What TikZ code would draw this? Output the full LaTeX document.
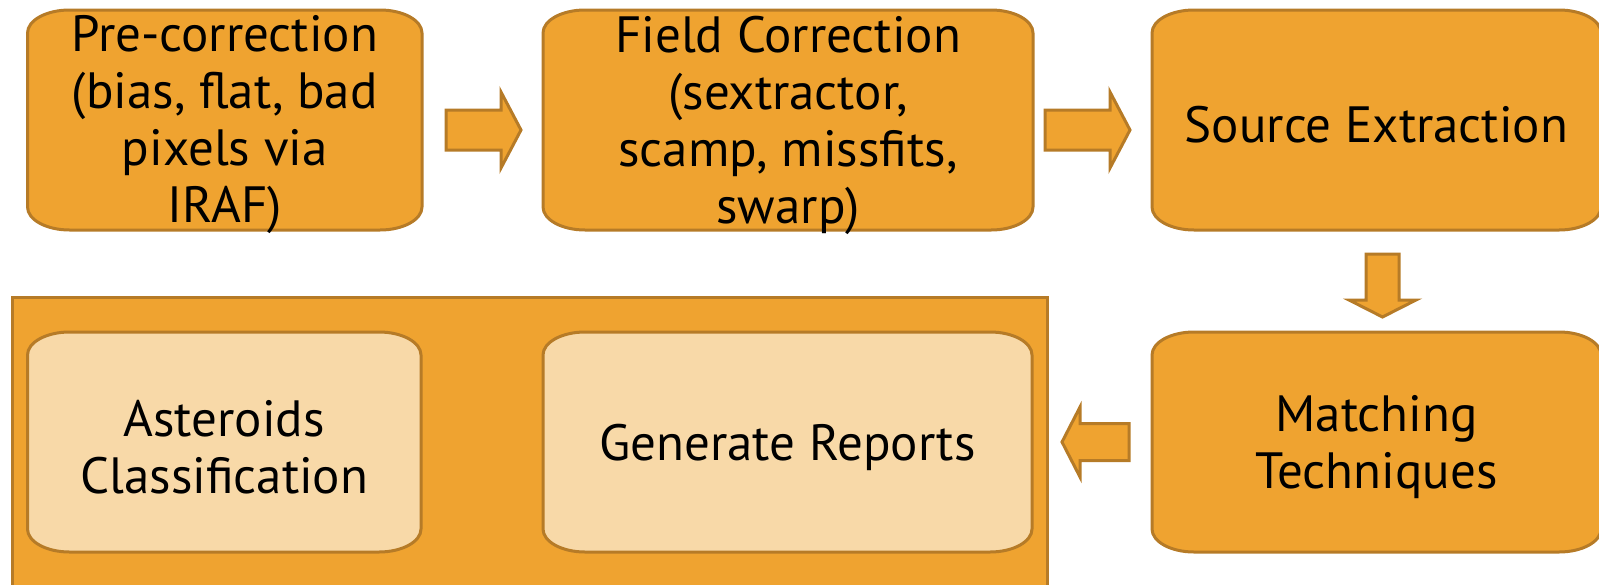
\documentclass[tikz,border=0pt]{standalone}
\usepackage{fontspec}
\setmainfont{PT Sans}
\usetikzlibrary{calc,backgrounds}

\definecolor{stepfill}{HTML}{EFA330}
\definecolor{stepline}{HTML}{B67B27}
\definecolor{lightfill}{HTML}{F8D9A8}

\tikzset{
  stepbox/.style={minimum width=#1, minimum height=110pt, inner sep=0pt,
    outer sep=0pt, align=center, text=black,
    font=\fontsize{25.5}{28.5}\selectfont},
  outline/.style={draw=stepline, line width=1.5pt},
  blockarrow/.style={outline, fill=stepfill, line join=miter},
}

% box with elliptical corners around a named node (raised slightly above the text)
\newcommand\ovalbox[2]{%
  \path[outline, fill=#2]
    ([xshift=21pt,yshift=2.5pt]#1.north west) -- ([xshift=-21pt,yshift=2.5pt]#1.north east)
    arc[start angle=90, end angle=0, x radius=21pt, y radius=11.5pt]
    -- ([yshift=14pt]#1.south east)
    arc[start angle=0, end angle=-90, x radius=21pt, y radius=11.5pt]
    -- ([xshift=21pt,yshift=2.5pt]#1.south west)
    arc[start angle=270, end angle=180, x radius=21pt, y radius=11.5pt]
    -- ([yshift=-9pt]#1.north west)
    arc[start angle=180, end angle=90, x radius=21pt, y radius=11.5pt]
    -- cycle;}

% block arrow: name, tail, tip, shaft half width, head half width, head length
\newcommand\fatarrow[6]{%
  \coordinate (#1-t) at (#2);
  \coordinate (#1-h) at (#3);
  \coordinate (#1-b) at ($(#1-h)!#6!(#1-t)$);
  \draw[blockarrow]
    ($(#1-t)!#4!90:(#1-h)$) -- ($(#1-b)!#4!-90:(#1-t)$)
    -- ($(#1-b)!#5!-90:(#1-t)$) -- (#1-h)
    -- ($(#1-b)!#5!90:(#1-t)$) -- ($(#1-b)!#4!90:(#1-t)$)
    -- ($(#1-t)!#4!-90:(#1-h)$) -- cycle;}

\begin{document}
\begin{tikzpicture}[x=0.5pt, y=-0.5pt]
  \useasboundingbox (0,0) rectangle (1599,584);

  % processing steps
  \node[stepbox=197.25pt] (pre)   at (224.75,125) {Pre-correction\\(bias, flat, bad\\pixels via\\IRAF)};
  \node[stepbox=245pt]    (field) at (788,125)    {Field Correction\\(sextractor,\\scamp, missfits,\\swarp)};
  \node[stepbox=224.5pt]  (src)   at (1376.5,125) {Source Extraction};
  \node[stepbox=224.5pt]  (match) at (1376.5,447) {Matching\\Techniques};

  % output group
  \node[minimum width=517.5pt, minimum height=161.5pt, inner sep=0pt, outer sep=0pt] (grp) at (529.5,458.5) {};
  \node[stepbox=196.75pt] (ast) at (224.25,447) {Asteroids\\Classification};
  \node[stepbox=244.5pt]  (gen) at (787.5,447)  {Generate Reports};

  \begin{pgfonlayer}{background}
    \draw[outline, fill=stepfill] (grp.north west) rectangle (grp.south east);
    \ovalbox{pre}{stepfill}
    \ovalbox{field}{stepfill}
    \ovalbox{src}{stepfill}
    \ovalbox{match}{stepfill}
    \ovalbox{ast}{lightfill}
    \ovalbox{gen}{lightfill}
  \end{pgfonlayer}

  % flow arrows
  \fatarrow{a1}{[xshift=12pt,yshift=-2.5pt]pre.east}{[xshift=-11pt,yshift=-2.5pt]field.west}{10pt}{19pt}{10pt}
  \fatarrow{a2}{[xshift=6pt,yshift=-2.5pt]field.east}{[xshift=-11pt,yshift=-2.5pt]src.west}{10pt}{19pt}{10pt}
  \fatarrow{a3}{[xshift=3pt,yshift=-9.5pt]src.south}{[xshift=3pt,yshift=10pt]match.north}{8.25pt}{16.75pt}{8.5pt}
  \fatarrow{a4}{[xshift=-11.5pt,yshift=2.5pt]match.west}{$(grp.east |- match.west)+(7.5pt,2.5pt)$}{9.25pt}{17.5pt}{9pt}
\end{tikzpicture}
\end{document}
